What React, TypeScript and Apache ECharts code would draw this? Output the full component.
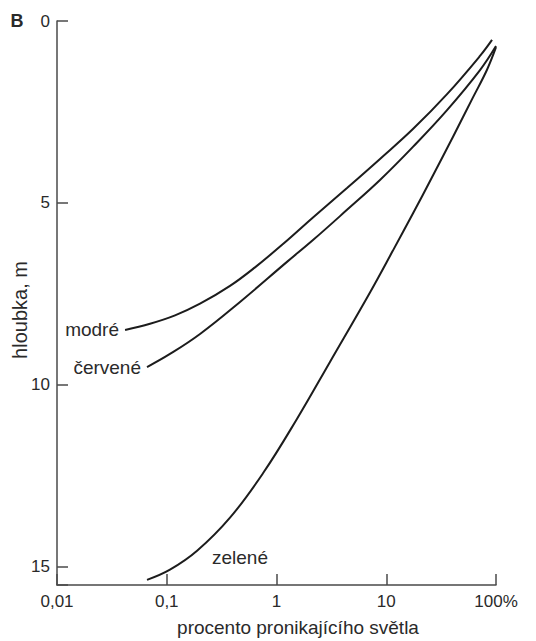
import React, { useEffect, useRef } from "react";
import * as echarts from "echarts";

// percent of penetrating light (x, log scale) vs depth in m (y)
const modre: [number, number][] = [
  [0.0417, 8.49], [0.0704, 8.32], [0.119, 8.09], [0.201, 7.77], [0.377, 7.28], [0.637, 6.77],
  [1.146, 6.13], [2.15, 5.4], [4.39, 4.59], [8.77, 3.79], [17.5, 2.97], [35.8, 2.01], [71.5, 0.96], [92, 0.52],
];
const cervene: [number, number][] = [
  [0.0661, 9.51], [0.107, 9.15], [0.201, 8.6], [0.465, 7.72], [1.246, 6.62], [2.15, 6.02],
  [4.39, 5.19], [8.77, 4.37], [17.5, 3.46], [35.8, 2.45], [71.5, 1.35], [100, 0.69],
];
const zelene: [number, number][] = [
  [0.0661, 15.36], [0.107, 15.08], [0.189, 14.56], [0.377, 13.65], [0.753, 12.43], [1.54, 10.93],
  [3.07, 9.37], [7.11, 7.46], [11.5, 6.31], [17.5, 5.29], [26.7, 4.24], [40.6, 3.18], [61.7, 2.1],
  [82.8, 1.34], [100, 0.72],
];
const xTickLabels = ["0,01", "0,1", "1", "10", "100%"];
const yTicks = [0, 5, 10, 15];

const FONT = "Liberation Sans, Arial, Helvetica, sans-serif";
const INK = "#1c1c1c";
const TXT = "#2a2a2a";
const AXIS = "#4a4a4a";

export default function App() {
  const ref = useRef<HTMLDivElement>(null);
  useEffect(() => {
    document.body.style.margin = "0";
    if (!ref.current) return;
    const chart = echarts.init(ref.current, undefined, { renderer: "svg" });
    const line = (name: string, data: [number, number][]) => ({
      name,
      type: "line",
      data,
      smooth: 0.4,
      showSymbol: false,
      symbol: "none",
      clip: false,
      lineStyle: { color: INK, width: 2 },
    });
    chart.setOption({
      animation: false,
      backgroundColor: "#ffffff",
      grid: { left: 57, right: 40, top: 21, bottom: 56, containLabel: false },
      xAxis: {
        type: "log",
        logBase: 10,
        min: 0.01,
        max: 100,
        position: "bottom",
        axisLine: { show: true, onZero: false, lineStyle: { color: AXIS, width: 1.5 } },
        axisTick: { show: true, inside: true, length: 11, lineStyle: { color: AXIS, width: 1.5 } },
        minorTick: { show: false },
        splitLine: { show: false },
        axisLabel: {
          margin: 8,
          fontFamily: FONT,
          fontSize: 17,
          color: TXT,
          formatter: (v: number) => {
            const i = Math.round(Math.log10(v)) + 2;
            return xTickLabels[i] ?? "";
          },
        },
      },
      yAxis: {
        type: "value",
        inverse: true,
        min: 0,
        max: 15.5,
        interval: 5,
        axisLine: { show: true, onZero: false, lineStyle: { color: AXIS, width: 1.5 } },
        axisTick: { show: true, inside: true, length: 11, lineStyle: { color: AXIS, width: 1.5 } },
        splitLine: { show: false },
        axisLabel: {
          margin: 7,
          fontFamily: FONT,
          fontSize: 17,
          color: TXT,
          formatter: (v: number) => (yTicks.includes(v) ? String(v) : ""),
        },
      },
      graphic: [
        { type: "text", x: 17, y: 21, style: { text: "B", font: `bold 18px ${FONT}`, fill: TXT, align: "center", verticalAlign: "middle" } },
        {
          type: "text",
          x: 20,
          y: 310,
          rotation: Math.PI / 2,
          style: { text: "hloubka, m", font: `20px ${FONT}`, fill: TXT, align: "center", verticalAlign: "middle" },
        },
        {
          type: "text",
          x: 298,
          y: 627,
          style: { text: "procento pronikajícího světla", font: `19px ${FONT}`, fill: TXT, align: "center", verticalAlign: "middle" },
        },
        { type: "text", x: 119, y: 329, style: { text: "modré", font: `19px ${FONT}`, fill: TXT, align: "right", verticalAlign: "middle" } },
        { type: "text", x: 141, y: 367, style: { text: "červené", font: `19px ${FONT}`, fill: TXT, align: "right", verticalAlign: "middle" } },
        { type: "text", x: 240, y: 557, style: { text: "zelené", font: `19px ${FONT}`, fill: TXT, align: "center", verticalAlign: "middle" } },
      ],
      series: [line("modré", modre), line("červené", cervene), line("zelené", zelene)],
    });
    return () => chart.dispose();
  }, []);
  return <div ref={ref} style={{ width: 536, height: 641 }} />;
}
